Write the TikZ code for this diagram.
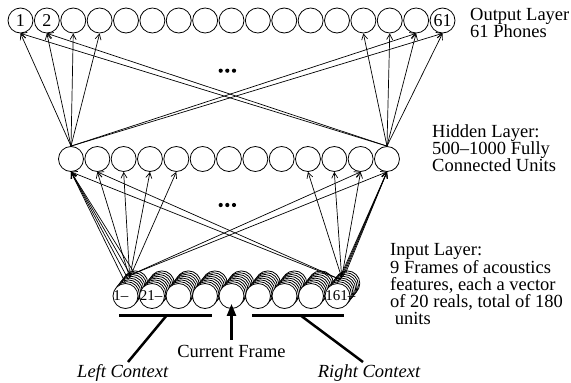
\documentclass[tikz,border=0pt]{standalone}
\usepackage{fontspec}
\setmainfont{Liberation Serif}
\usetikzlibrary{arrows.meta}
\begin{document}
\begin{tikzpicture}[x=1pt,y=-1pt,
  unit/.style={circle, draw, line width=0.8pt, minimum size=25pt, inner sep=0pt,
    fill=white, font=\fontsize{18}{18}\selectfont},
  feat/.style={circle, draw, line width=0.8pt, minimum size=25pt, inner sep=0pt, fill=white},
  link/.style={line width=0.7pt, -{Straight Barb[length=5.5pt,width=6pt]}},
  caption/.style={anchor=north west, inner sep=0pt, align=left,
    font=\fontsize{18.5}{17}\selectfont},
  tag/.style={anchor=west, inner sep=0pt, font=\fontsize{15}{15}\selectfont},
  ctx/.style={anchor=base, inner sep=0pt, font=\fontsize{18.5}{17}\selectfont\itshape},
  bar/.style={line width=3pt},
  pointer/.style={line width=2.5pt},
  dot/.style={circle, fill, inner sep=0pt, minimum size=4.2pt}
]
\useasboundingbox (0,0) rectangle (571,383);

% output layer: 61 phones
\foreach \i in {1,...,17}
  \node[unit] (o\i) at ({20.5+(\i-1)*26.375}, 20.5)
    {\ifnum\i=17 61\else\ifnum\i<3 \i\fi\fi};

% hidden layer
\foreach \i in {1,...,13}
  \node[unit] (h\i) at ({71+(\i-1)*26.33}, 159) {};

% input layer: 9 frames, each a stack of feature units (back to front)
\foreach \k in {7,6,...,0}
  \foreach \j in {1,...,9}
    \node[feat] (in\j-\k) at ({125.5+(\j-1)*26.5+1.4*\k}, {296-1.8*\k}) {};

\node[tag] (t1) at ([xshift=0.5pt]in1-0.west) {1–};
\node[tag] (t21) at ([xshift=0.5pt]in2-0.west) {21–};
\node[tag] (t161) at ([xshift=0.5pt]in9-0.west) {161–};

% ellipses between the layers
\foreach \n/\x in {1/220.7,2/227.3,3/234} {
  \node[dot] (da\n) at (\x, 70.7) {};
  \node[dot] (db\n) at (\x, 205) {};
}

% hidden -> output
\foreach \t in {1,2,3,4,16,17} \draw[link] (h1.north) -- (o\t.south);
\foreach \t in {1,2,14,15,16,17} \draw[link] (h13.north) -- (o\t.south);

% input -> hidden
\foreach \k in {0,2,4,6} \draw[link] (in1-\k.north) -- (h1.south);
\foreach \t in {2,3,4,5} \draw[link] (in1-3.north) -- (h\t.south);
\foreach \t in {12,13} \draw[link] (in1-5.north) -- (h\t.south);
\foreach \k in {0,2,4,6} \draw[link] (in9-\k.north) -- (h13.south);
\foreach \t in {10,11,12} \draw[link] (in9-3.north) -- (h\t.south);
\foreach \t in {1,2} \draw[link] (in9-2.north) -- (h\t.south);

% layer captions
\node[caption] (capo) at (470, 8.5) {Output Layer\\61 Phones};
\node[caption] (caph) at (432, 124.5) {Hidden Layer:\\500–1000 Fully\\Connected Units};
\node[caption] (capi) at (390, 243.5) {Input Layer:\\9 Frames of acoustics\\features, each a vector\\of 20 reals, total of 180\\\hspace{4.6pt}units};

% context brackets
\draw[bar] (119,315) -- (212,315);
\draw[bar] (252,315) -- (344,315);
\node[ctx] (lc) at (122.7, 377) {Left Context};
\node[ctx] (rc) at (369, 377) {Right Context};
\coordinate (lbar) at (167,315);
\coordinate (rbar) at (300,315);
\coordinate (ltip) at (128,362);
\coordinate (rtip) at (363,362);
\draw[pointer] (lbar) -- (ltip);
\draw[pointer] (rbar) -- (rtip);

% current frame
\node[anchor=base, inner sep=0pt, font=\fontsize{18.5}{17}\selectfont] (cf) at (231.5, 357) {Current Frame};
\draw[line width=2.5pt, -{Triangle[length=12pt,width=9pt]}]
  ([yshift=5pt]cf.north) -- ([yshift=5pt]in5-0.south);
\end{tikzpicture}
\end{document}
